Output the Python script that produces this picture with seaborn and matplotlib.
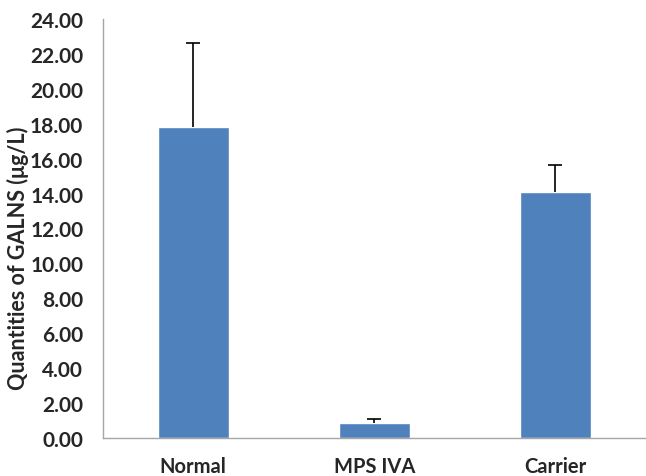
import numpy as np
import pandas as pd
import matplotlib
matplotlib.use("Agg")
import matplotlib.pyplot as plt
import matplotlib.ticker as mticker
import seaborn as sns

# ====== 数据 ======
groups = ["Normal", "MPS IVA", "Carrier"]
means = [17.80, 0.85, 14.10]
errors = [4.82, 0.23, 1.54]

sns.set_theme(style="white")
plt.rcParams["font.family"] = ["Lato", "DejaVu Sans"]

df = pd.DataFrame({"group": groups, "mean": means})

fig = plt.figure(figsize=(6.46, 4.77), dpi=100)
ax = fig.add_axes([0.159, 0.080, 0.841, 0.878])

sns.barplot(data=df, x="group", y="mean", color="#4F81BD", saturation=1,
            width=0.39, errorbar=None, ax=ax)
# 只画向上的误差线
_, caps, _ = ax.errorbar(np.arange(len(groups)), means,
                         yerr=[np.zeros(len(errors)), errors],
                         fmt="none", ecolor="black", elinewidth=1.2,
                         capsize=5, capthick=1.2)
caps[0].set_visible(False)

ax.set_xlim(-0.5, 2.5)
ax.set_ylim(0, 24)
ax.yaxis.set_major_locator(mticker.MultipleLocator(2))
ax.yaxis.set_major_formatter(mticker.FormatStrFormatter("%.2f"))
ax.xaxis.set_minor_locator(mticker.FixedLocator([-0.5, 0.5, 1.5, 2.5]))

ax.tick_params(axis="x", which="major", length=0, pad=13, labelsize=14.5)
ax.tick_params(axis="x", which="minor", length=5, color="#A6A6A6", width=1)
ax.tick_params(axis="y", length=5, color="#A6A6A6", width=1, labelsize=15, pad=9)
for lab in ax.get_xticklabels() + ax.get_yticklabels():
    lab.set_fontweight("bold")

for side in ["top", "right"]:
    ax.spines[side].set_visible(False)
for side in ["left", "bottom"]:
    ax.spines[side].set_color("#A6A6A6")
    ax.spines[side].set_linewidth(1)

ax.set_xlabel("")
ax.set_ylabel("Quantities of GALNS (μg/L)", fontsize=15.5, fontweight="bold")
ax.yaxis.set_label_coords(-0.136, 0.432)

fig.savefig("out.png", dpi=100)
